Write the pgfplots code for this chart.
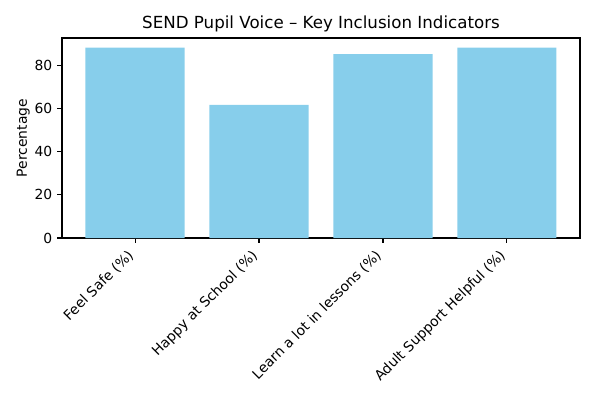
\documentclass[border=0pt]{standalone}
\usepackage{pgfplots}
\pgfplotsset{compat=1.18}
\usepackage{fontspec}
\setmainfont{DejaVu Sans}
\definecolor{skyblue}{HTML}{87CEEB}
\begin{document}
\begin{tikzpicture}
\useasboundingbox (-44.6pt,-114.5pt) rectangle (383.8pt,171.4pt);
\begin{axis}[
  at={(0,0)}, anchor=south west,
  scale only axis, width=373pt, height=144pt,
  xmin=-0.59, xmax=3.59, ymin=0, ymax=92.7,
  xtick={0,1,2,3},
  xticklabels={Feel Safe (\%),Happy at School (\%),Learn a lot in lessons (\%),Adult Support Helpful (\%)},
  xticklabel style={xshift=-6pt, yshift=-2.5pt, rotate=45, anchor=north east, inner sep=1pt, font=\fontsize{10}{12}\selectfont},
  ytick={0,20,40,60,80},
  yticklabel style={font=\fontsize{10}{12}\selectfont},
  /pgf/number format/assume math mode=true,
  ylabel={Percentage},
  ylabel shift=-3.5pt,
  ylabel style={font=\fontsize{10}{12}\selectfont},
  title={SEND Pupil Voice – Key Inclusion Indicators},
  title style={font=\fontsize{12}{14}\selectfont, yshift=-5.5pt},
  xtick align=outside, ytick align=outside, major tick length=3.5pt,
  xtick pos=bottom, ytick pos=left,
  axis line style={line width=0.8pt, black},
  major tick style={black, line width=0.8pt},
  clip=false,
]
\addplot[ybar, bar width=0.8, bar shift=0pt, fill=skyblue, draw=none] coordinates {(0,88.3) (1,61.7) (2,85.3) (3,88.3)};
\draw[black, line width=1pt] (rel axis cs:0,0) -- (rel axis cs:0,1) -- (rel axis cs:1,1) -- (rel axis cs:1,0);
\end{axis}
\end{tikzpicture}
\end{document}
